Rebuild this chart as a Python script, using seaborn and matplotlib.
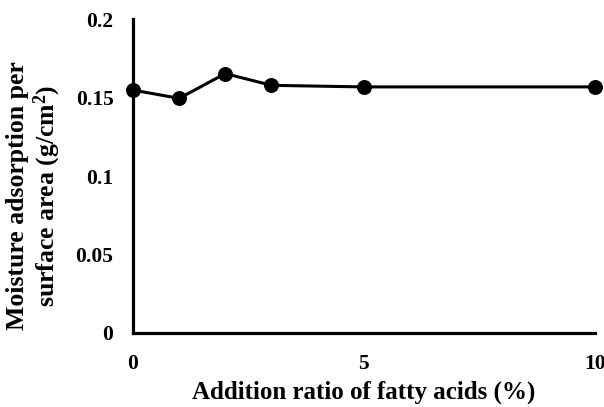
import matplotlib
matplotlib.use("Agg")
import matplotlib.pyplot as plt
import seaborn as sns
import pandas as pd

ratio = [0, 1, 2, 3, 5, 10]
adsorption = [0.1548, 0.1495, 0.1653, 0.1578, 0.1568, 0.1568]
x_ticks = [0, 5, 10]
y_ticks = [0, 0.05, 0.1, 0.15, 0.2]
y_tick_labels = ["0", "0.05", "0.1", "0.15", "0.2"]

sns.set_theme(style="white")
plt.rcParams["font.family"] = ["Liberation Serif", "DejaVu Serif"]
plt.rcParams["font.weight"] = "bold"
plt.rcParams["mathtext.fontset"] = "custom"
plt.rcParams["mathtext.rm"] = "Liberation Serif:bold"
plt.rcParams["mathtext.it"] = "Liberation Serif:bold"
plt.rcParams["mathtext.bf"] = "Liberation Serif:bold"

df = pd.DataFrame({"ratio": ratio, "ads": adsorption})

fig = plt.figure(figsize=(6.04, 4.07), dpi=100)
ax = fig.add_axes([0.220, 0.182, 0.765, 0.771])
sns.lineplot(data=df, x="ratio", y="ads", ax=ax, color="black", linewidth=2.2,
             marker="o", markersize=10, markeredgecolor="black", clip_on=False, zorder=5)
ax.set_xlim(0, 10)
ax.set_ylim(0, 0.2)
ax.set_xticks(x_ticks)
ax.set_yticks(y_ticks)
ax.set_yticklabels(y_tick_labels)
ax.tick_params(axis="both", length=0, labelsize=15.5, colors="black")
ax.tick_params(axis="y", pad=14)
ax.tick_params(axis="x", pad=15)
for lab in ax.get_xticklabels() + ax.get_yticklabels():
    lab.set_fontweight("bold")
for s in ["top", "right"]:
    ax.spines[s].set_visible(False)
for s in ["left", "bottom"]:
    ax.spines[s].set_color("black")
    ax.spines[s].set_linewidth(2.3)
ax.set_xlabel("Addition ratio of fatty acids (%)", fontsize=18, fontweight="bold", color="black", labelpad=5)
ax.set_ylabel("Moisture adsorption per\nsurface area (g/cm$^2$)", fontsize=18.5, fontweight="bold",
              color="black", linespacing=1.08)
ax.yaxis.set_label_coords(-0.152, 0.436)
fig.savefig("out.png", dpi=100)
